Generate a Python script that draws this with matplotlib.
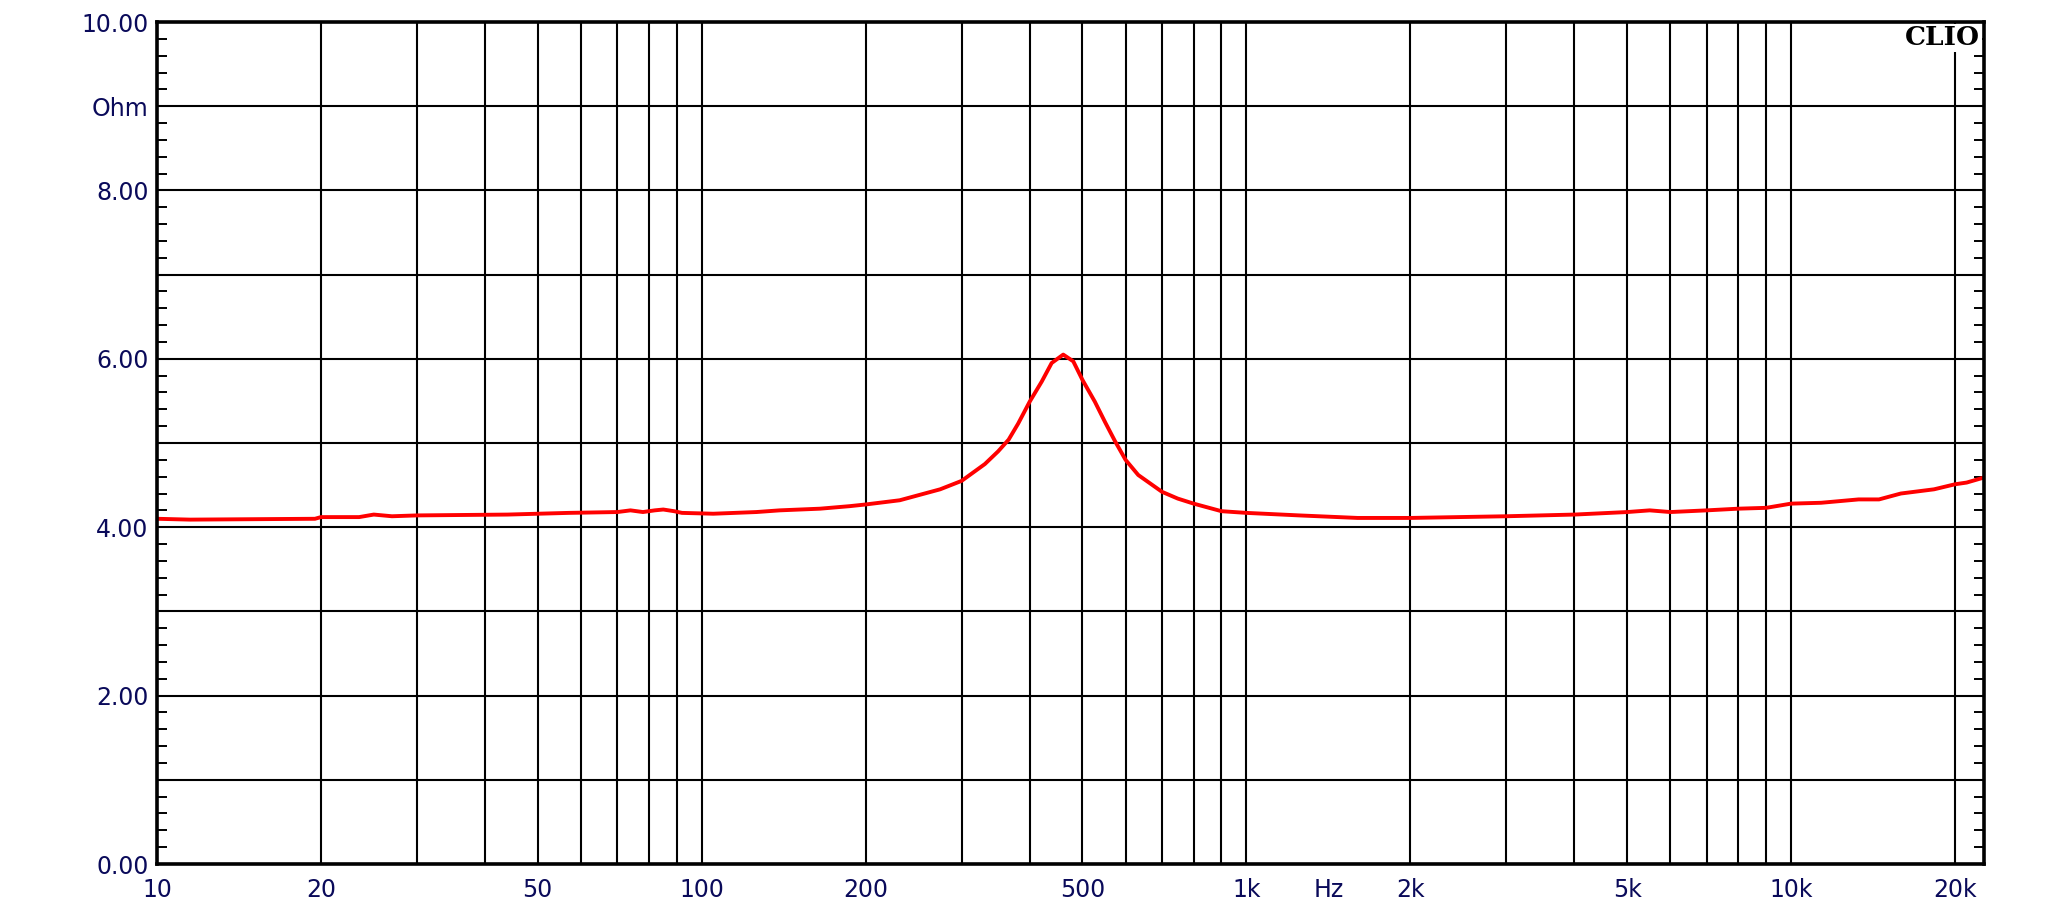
import numpy as np
import matplotlib.pyplot as plt
from matplotlib.ticker import FixedLocator, NullFormatter

# Impedance curve (Hz, Ohm)
freq = [10, 11.5, 19.5, 20, 23.5, 25, 27, 30, 44, 57, 70, 74, 78, 82, 85, 89, 92,
        105, 126, 139, 165, 187, 200, 231, 274, 300, 331, 350, 366, 381, 400,
        421, 439, 461, 481, 500, 527, 550, 574, 600, 633, 700, 748, 800, 900,
        1000, 1250, 1600, 2000, 2450, 3000, 4000, 5000, 5500, 6000, 7000, 8000,
        9000, 10000, 11350, 13300, 14500, 15900, 18300, 20000, 21000, 22600]
ohm = [4.10, 4.09, 4.10, 4.12, 4.12, 4.15, 4.13, 4.14, 4.15, 4.17, 4.18, 4.20,
       4.18, 4.20, 4.21, 4.19, 4.17, 4.16, 4.18, 4.20, 4.22, 4.25, 4.27, 4.32,
       4.45, 4.55, 4.75, 4.90, 5.04, 5.23, 5.49, 5.73, 5.95, 6.05, 5.97, 5.75,
       5.49, 5.25, 5.02, 4.80, 4.62, 4.42, 4.34, 4.28, 4.19, 4.17, 4.14, 4.11,
       4.11, 4.12, 4.13, 4.15, 4.18, 4.20, 4.18, 4.20, 4.22, 4.23, 4.28, 4.29,
       4.33, 4.33, 4.40, 4.45, 4.51, 4.53, 4.59]

x_ticks = [10, 20, 50, 100, 200, 500, 1000, 1414, 2000, 5000, 10000, 20000]
x_labels = ['10', '20', '50', '100', '200', '500', '1k', 'Hz', '2k', '5k', '10k', '20k']
y_ticks = [0, 1, 2, 3, 4, 5, 6, 7, 8, 9, 10]
y_labels = ['0.00', '', '2.00', '', '4.00', '', '6.00', '', '8.00', 'Ohm', '10.00']

x_min, x_max = 10, 22600

plt.rcParams['font.family'] = ['DejaVu Sans']
label_color = '#0a0a5a'

fig = plt.figure(figsize=(20.6, 9.14), dpi=100)
ax = fig.add_axes([157 / 2060, 50 / 914, 1827 / 2060, 842 / 914])

ax.set_xscale('log')
ax.set_xlim(x_min, x_max)
ax.set_ylim(0, 10)

# vertical grid at every 1..9 x decade
grid_x = [m * 10 ** d for d in range(1, 5) for m in range(1, 10) if x_min < m * 10 ** d < x_max]
for gx in grid_x:
    ax.axvline(gx, color='black', lw=1.5, zorder=1)
for gy in y_ticks[1:-1]:
    ax.axhline(gy, color='black', lw=1.5, zorder=1)

ax.plot(freq, ohm, color='#ff0000', lw=2.8, zorder=3)

ax.xaxis.set_major_locator(FixedLocator(x_ticks))
ax.set_xticklabels(x_labels)
ax.xaxis.set_minor_locator(FixedLocator([]))
ax.xaxis.set_minor_formatter(NullFormatter())
ax.tick_params(axis='x', which='both', length=0, pad=10, labelsize=17,
               labelcolor=label_color)

ax.set_yticks(y_ticks)
ax.set_yticklabels(y_labels)
ax.yaxis.set_minor_locator(FixedLocator(np.arange(0, 10.01, 0.2)))
ax.tick_params(axis='y', which='major', length=0, pad=6, labelsize=17,
               labelcolor=label_color)
ax.tick_params(axis='y', which='minor', direction='in', length=7, width=1.4,
               left=True, right=True, color='black')

for side in ['left', 'right', 'top', 'bottom']:
    ax.spines[side].set_linewidth(2.6)
    ax.spines[side].set_color('black')
    ax.spines[side].set_zorder(4)

ax.text(0.998, 0.996, 'CLIO', transform=ax.transAxes, ha='right', va='top',
        family='DejaVu Serif', fontweight='bold', fontsize=19, color='black',
        zorder=5, bbox=dict(facecolor='white', edgecolor='none', pad=1))

fig.savefig('out.png', dpi=100)
